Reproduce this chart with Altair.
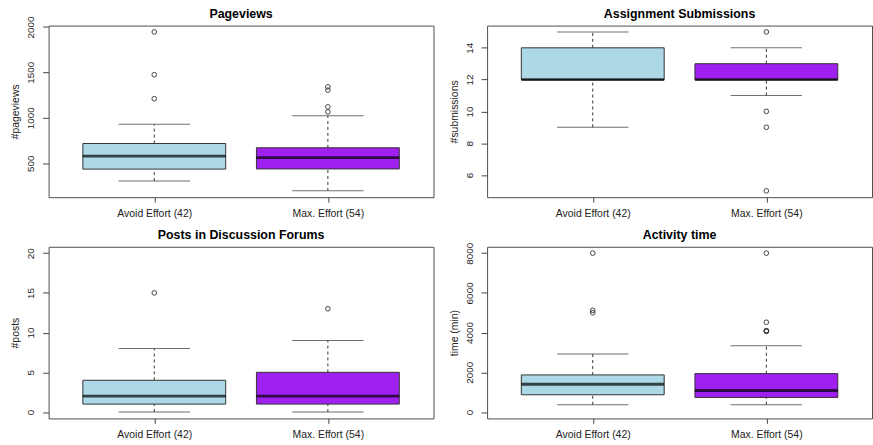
import altair as alt
import pandas as pd

# Groups and their fill colours
groups = ["Avoid Effort (42)", "Max. Effort (54)"]
fills = ["#ADD8E6", "#A020F0"]

# Five-number summaries per group: lower whisker, Q1, median, Q3, upper whisker
pageviews_avoid = [304, 435, 579, 717, 930]
pageviews_max = [196, 437, 561, 670, 1022]
pageviews_out_avoid = [1210, 1474, 1945]
pageviews_out_max = [1065, 1120, 1304, 1340]

submissions_avoid = [9, 12, 12, 14, 15]
submissions_max = [11, 12, 12, 13, 14]
submissions_out_avoid = []
submissions_out_max = [15, 10, 9, 5]

posts_avoid = [0, 1, 2, 4, 8]
posts_max = [0, 1, 2, 5, 9]
posts_out_avoid = [15]
posts_out_max = [13]

time_avoid = [370, 870, 1400, 1870, 2920]
time_max = [370, 735, 1085, 1935, 3335]
time_out_avoid = [5000, 5120, 8000]
time_out_max = [4060, 4085, 4100, 4520, 8000]

FONT = "Liberation Sans"
PANEL_W = 388
PANEL_H = 173


def r_range(lo, hi):
    """Axis range padded by 4% on each side."""
    d = (hi - lo) * 0.04
    return [lo - d, hi + d]


def panel(s_avoid, s_max, o_avoid, o_max, title, ytitle, ylim, yticks):
    stats = pd.DataFrame(
        [dict(pos=i + 1, group=g, low=s[0], q1=s[1], med=s[2], q3=s[3], high=s[4])
         for i, (g, s) in enumerate(zip(groups, [s_avoid, s_max]))]
    )
    outs = pd.DataFrame(
        [dict(pos=1, value=v) for v in o_avoid] + [dict(pos=2, value=v) for v in o_max]
    )

    label_expr = f"datum.value == 1 ? '{groups[0]}' : '{groups[1]}'"
    x = alt.X(
        "pos:Q",
        scale=alt.Scale(domain=r_range(0.5, 2.5), nice=False, zero=False),
        axis=alt.Axis(
            values=[1, 2], labelExpr=label_expr, title=None, grid=False, domain=False,
            tickSize=5, tickColor="#444", labelAngle=0, labelFontSize=10.5,
            labelFont=FONT, labelColor="#222", labelPadding=6,
        ),
    )
    yscale = alt.Scale(domain=r_range(*ylim), nice=False, zero=False)
    yaxis = alt.Axis(
        values=yticks, format="d", title=ytitle, grid=False, domain=False, tickSize=6,
        tickColor="#444", labelAngle=-90, labelAlign="center", labelBaseline="bottom",
        labelFontSize=10, labelFont=FONT, labelColor="#222", labelPadding=7,
        titleFont=FONT, titleFontSize=10.5, titleFontWeight="normal", titleColor="#222",
        titleAngle=-90, titleX=-33, titleY=PANEL_H / 2, titleAlign="center",
        titleBaseline="middle",
    )

    base = alt.Chart(stats)
    whisk_lo = base.mark_rule(color="#333", strokeDash=[3, 3], strokeWidth=1).encode(
        x=x, y=alt.Y("low:Q", scale=yscale, axis=yaxis), y2="q1:Q"
    )
    whisk_hi = base.mark_rule(color="#333", strokeDash=[3, 3], strokeWidth=1).encode(
        x=x, y="q3:Q", y2="high:Q"
    )
    cap_lo = base.mark_tick(orient="horizontal", size=72, thickness=1, color="#333").encode(
        x=x, y="low:Q"
    )
    cap_hi = base.mark_tick(orient="horizontal", size=72, thickness=1, color="#333").encode(
        x=x, y="high:Q"
    )
    box = base.mark_bar(size=144, stroke="#333", strokeWidth=1, opacity=1).encode(
        x=x, y="q1:Q", y2="q3:Q",
        color=alt.Color("group:N", scale=alt.Scale(domain=groups, range=fills), legend=None),
    )
    median = base.mark_tick(orient="horizontal", size=144, thickness=2.8, color="black").encode(
        x=x, y="med:Q"
    )
    # Panel heading, centred above the plot frame
    heading = alt.Chart(pd.DataFrame({"t": [title]})).mark_text(
        font=FONT, fontSize=12.5, fontWeight="bold", color="black",
        align="center", baseline="alphabetic",
    ).encode(text="t:N", x=alt.value(PANEL_W / 2), y=alt.value(-8))

    layers = [whisk_lo, whisk_hi, cap_lo, cap_hi, box, median, heading]
    if len(outs):
        pts = alt.Chart(outs).mark_point(
            shape="circle", filled=False, size=22, color="#333", strokeWidth=0.9, opacity=1
        ).encode(x=x, y="value:Q")
        layers.append(pts)

    return alt.layer(*layers).properties(width=PANEL_W, height=PANEL_H)


p1 = panel(pageviews_avoid, pageviews_max, pageviews_out_avoid, pageviews_out_max,
           "Pageviews", "#pageviews", [196, 1945], [500, 1000, 1500, 2000])
p2 = panel(submissions_avoid, submissions_max, submissions_out_avoid, submissions_out_max,
           "Assignment Submissions", "#submissions", [5, 15], [6, 8, 10, 12, 14])
p3 = panel(posts_avoid, posts_max, posts_out_avoid, posts_out_max,
           "Posts in Discussion Forums", "#posts", [0, 20], [0, 5, 10, 15, 20])
p4 = panel(time_avoid, time_max, time_out_avoid, time_out_max,
           "Activity time", "time (min)", [0, 8000], [0, 2000, 4000, 6000, 8000])

chart = alt.concat(
    p1, p2, p3, p4, columns=2, bounds="flush",
    spacing=alt.RowColnumber(row=50, column=54),
).properties(
    padding={"left": 10, "top": 5, "right": 0, "bottom": 0},
    background="white",
).configure_view(stroke="#4d4d4d", strokeWidth=1)

chart.save("out.html", embed_options={"renderer": "svg", "actions": False})
